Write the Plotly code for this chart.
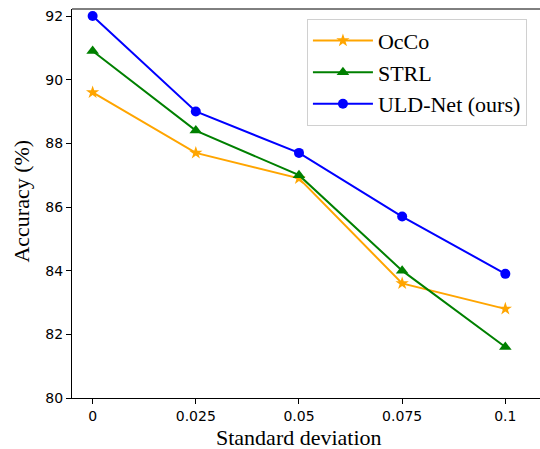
import plotly.graph_objects as go

x_vals = [0, 0.025, 0.05, 0.075, 0.1]
x_labels = ["0", "0.025", "0.05", "0.075", "0.1"]
occo = [89.6, 87.7, 86.9, 83.6, 82.8]
strl = [90.9, 88.4, 87.0, 84.0, 81.6]
uld = [92.0, 89.0, 87.7, 85.7, 83.9]
y_ticks = [80, 82, 84, 86, 88, 90, 92]

fig = go.Figure()
fig.add_trace(go.Scatter(x=x_vals, y=occo, name="OcCo", mode="lines+markers",
                         line=dict(color="#FFA500", width=2),
                         marker=dict(symbol="star", size=10, color="#FFA500")))
fig.add_trace(go.Scatter(x=x_vals, y=strl, name="STRL", mode="lines+markers",
                         line=dict(color="#008000", width=2),
                         marker=dict(symbol="triangle-up", size=11, color="#008000")))
fig.add_trace(go.Scatter(x=x_vals, y=uld, name="ULD-Net (ours)", mode="lines+markers",
                         line=dict(color="#0000FF", width=2),
                         marker=dict(symbol="circle", size=10, color="#0000FF")))

fig.update_layout(
    width=540, height=449,
    margin=dict(l=72, r=0, t=9, b=51, autoexpand=False),
    paper_bgcolor="white", plot_bgcolor="white",
    legend=dict(x=0.502, y=0.975, xanchor="left", yanchor="top",
                bgcolor="white", bordercolor="#d0d0d0", borderwidth=1,
                font=dict(family="Liberation Serif", size=22, color="black"),
                tracegroupgap=0, itemwidth=60),
    xaxis=dict(range=[-0.005, 0.1084], tickvals=x_vals, ticktext=x_labels,
               automargin=False,
               showgrid=False, zeroline=False, showline=True, linecolor="black",
               linewidth=1, mirror=False, ticks="outside", ticklen=5, tickcolor="black",
               tickfont=dict(family="DejaVu Sans", size=14, color="black")),
    yaxis=dict(range=[80, 92.22], tickvals=y_ticks, automargin=False,
               showgrid=False, zeroline=False, showline=True, linecolor="black",
               linewidth=1, ticks="outside", ticklen=5, tickcolor="black",
               tickfont=dict(family="DejaVu Sans", size=14, color="black")),
    showlegend=True,
)
# top spine
fig.add_shape(type="line", xref="paper", yref="paper", x0=0, x1=1, y0=1, y1=1,
              line=dict(color="black", width=1))

# axis titles
fig.add_annotation(text="Standard deviation", xref="paper", yref="paper",
                   x=(299 - 72) / 468, y=-(437 - 398) / 389, xanchor="center", yanchor="middle",
                   showarrow=False,
                   font=dict(family="Liberation Serif", size=22, color="black"))
fig.add_annotation(text="Accuracy (%)", xref="paper", yref="paper",
                   x=-(72 - 22) / 468, y=0.505, xanchor="center", yanchor="middle",
                   textangle=-90, showarrow=False,
                   font=dict(family="Liberation Serif", size=22, color="black"))

fig.write_html("out.html", config={"displayModeBar": False},
               post_script="document.body.style.margin='0';document.body.style.overflow='hidden';")
